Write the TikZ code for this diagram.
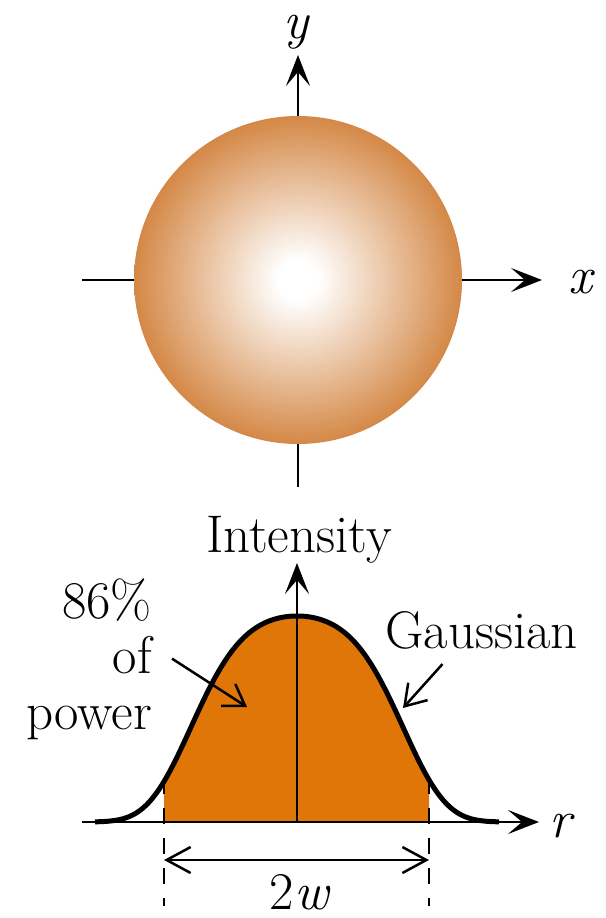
\documentclass[tikz,border=0pt]{standalone}
\usetikzlibrary{arrows.meta}
\definecolor{beamedge}{RGB}{212,136,70}
\definecolor{fillorange}{RGB}{224,118,8}
\pgfdeclareradialshading{beamglow}{\pgfpoint{0bp}{0bp}}{color(0bp)=(white); color(3bp)=(white); color(25bp)=(beamedge); color(50bp)=(beamedge)}
\begin{document}
\begin{tikzpicture}[x=1pt,y=-1pt,
  lbl/.style={inner sep=0pt, font=\fontsize{53}{58}\selectfont},
  axis/.style={line width=2.5pt},
  head/.style={-{Stealth[length=31pt,width=24pt,inset=14pt]}},
  ptr/.style={line width=2.5pt,-{Straight Barb[length=20pt,width=26pt]}},
  dbl/.style={line width=2.5pt,{Straight Barb[length=24pt,width=26pt]}-{Straight Barb[length=24pt,width=26pt]}},
  dashline/.style={line width=2pt, dash pattern=on 16pt off 14pt},
  curve/.style={line width=5pt, line join=round},
]
\useasboundingbox (0,0) rectangle (605,918);

% ---------- top: beam cross-section ----------
\node[circle, minimum size=328pt, inner sep=0pt, shading=beamglow] (beam) at (298,280) {};
\coordinate (xl) at (82,280);
\coordinate (xt) at (542,280);
\coordinate (yt) at (298,55);
\coordinate (yb) at (298,487);
\draw[axis] (xl) -- (beam.west);
\draw[axis,head] (beam.east) -- (xt);
\draw[axis,head] (beam.north) -- (yt);
\draw[axis] (beam.south) -- (yb);
\node[lbl, anchor=base] (xlab) at (582,293) {\textit{x}};
\node[lbl, anchor=base] (ylab) at (297,38) {\textit{y}};

% ---------- bottom: intensity profile ----------
\def\gcurve{plot[domain=-202:202, samples=121, smooth] ({297+\x},{822-206*exp(-(\x/185.5)^2-(\x/129.5)^4)})}
\begin{scope}
  \clip (164,600) rectangle (429,823);
  \fill[fillorange] \gcurve -- cycle;
\end{scope}
\coordinate (c0) at (297,822);
\coordinate (rl) at (82,822);
\coordinate (rt) at (539,822);
\coordinate (it) at (297,563);
\draw[axis,head] (rl) -- (rt);
\draw[axis,head] (c0) -- (it);
\draw[curve] \gcurve;

\coordinate (dl1) at (164,778);
\coordinate (dl2) at (164,906);
\coordinate (dr1) at (429,778);
\coordinate (dr2) at (429,906);
\draw[dashline] (dl1) -- (dl2);
\draw[dashline] (dr1) -- (dr2);
\coordinate (wl) at (164,860);
\coordinate (wr) at (429,860);
\draw[dbl] (wl) -- (wr);

\node[lbl, anchor=base] (rlab) at (562,837) {\textit{r}};
\node[lbl, anchor=base] (ilab) at (299,552) {Intensity};
\node[lbl, anchor=base] (wlab) at (300,909) {2\textit{w}};
\node[lbl, anchor=base east] (p1) at (152,618) {86\%};
\node[lbl, anchor=base east] (p2) at (152,673) {of};
\node[lbl, anchor=base east] (p3) at (152,729) {power};
\node[lbl, anchor=base west] (gl) at (385,648) {Gaussian};
\coordinate (ptip) at (247,707);
\coordinate (gtip) at (403,708);
\draw[ptr] ([xshift=20pt,yshift=-4pt]p2.east) -- (ptip);
\draw[ptr] ([xshift=-39pt,yshift=-15pt]gl.south) -- (gtip);
\end{tikzpicture}
\end{document}
